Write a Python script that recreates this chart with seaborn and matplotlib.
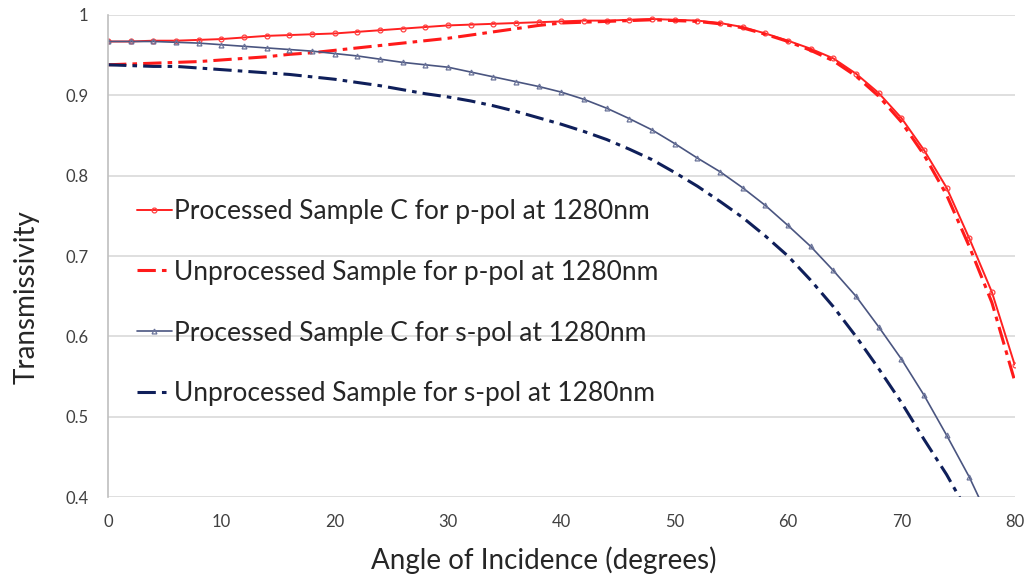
import numpy as np
import pandas as pd
import matplotlib
matplotlib.use("Agg")
import matplotlib.pyplot as plt
import seaborn as sns

angles = list(range(0, 81, 2))

p_processed = [0.967, 0.967, 0.968, 0.968, 0.969, 0.970, 0.972, 0.974, 0.975, 0.976,
               0.977, 0.979, 0.981, 0.983, 0.985, 0.987, 0.988, 0.989, 0.990, 0.991,
               0.992, 0.993, 0.993, 0.994, 0.995, 0.994, 0.993, 0.990, 0.985, 0.977,
               0.968, 0.958, 0.946, 0.927, 0.903, 0.872, 0.832, 0.785, 0.722, 0.655, 0.565]

p_unprocessed = [0.938, 0.939, 0.940, 0.941, 0.942, 0.944, 0.946, 0.948, 0.951, 0.953,
                 0.956, 0.959, 0.962, 0.965, 0.968, 0.971, 0.975, 0.979, 0.983, 0.987,
                 0.990, 0.991, 0.992, 0.993, 0.994, 0.993, 0.992, 0.989, 0.984, 0.976,
                 0.967, 0.956, 0.943, 0.924, 0.899, 0.867, 0.826, 0.776, 0.712, 0.642, 0.545]

s_processed = [0.967, 0.967, 0.967, 0.966, 0.965, 0.963, 0.961, 0.959, 0.957, 0.955,
               0.952, 0.949, 0.945, 0.941, 0.938, 0.935, 0.929, 0.923, 0.917, 0.911,
               0.904, 0.895, 0.884, 0.871, 0.857, 0.840, 0.822, 0.805, 0.785, 0.763,
               0.738, 0.712, 0.682, 0.650, 0.612, 0.572, 0.527, 0.477, 0.425, 0.365, np.nan]

s_unprocessed = [0.938, 0.937, 0.936, 0.936, 0.934, 0.932, 0.930, 0.928, 0.926, 0.923,
                 0.920, 0.916, 0.912, 0.907, 0.902, 0.898, 0.893, 0.887, 0.880, 0.872,
                 0.864, 0.855, 0.845, 0.833, 0.820, 0.804, 0.787, 0.768, 0.748, 0.725,
                 0.700, 0.670, 0.637, 0.600, 0.560, 0.518, 0.472, 0.428, 0.378, np.nan, np.nan]

labels = ["Processed Sample C for p-pol at 1280nm",
          "Unprocessed Sample for p-pol at 1280nm",
          "Processed Sample C for s-pol at 1280nm",
          "Unprocessed Sample for s-pol at 1280nm"]

x_ticks = [0, 10, 20, 30, 40, 50, 60, 70, 80]
y_ticks = [0.4, 0.5, 0.6, 0.7, 0.8, 0.9, 1.0]
y_tick_labels = ["0.4", "0.5", "0.6", "0.7", "0.8", "0.9", "1"]

sns.set_theme(style="white")
plt.rcParams['font.family'] = ['Lato', 'DejaVu Sans']

fig = plt.figure(figsize=(10.29, 5.76), dpi=100)
ax = fig.add_axes([0.105, 0.137, 0.881, 0.837])

styles = [
    dict(color="#ff2020", linestyle="-", linewidth=1.4, marker="o", markersize=3.5,
         markerfacecolor="none", markeredgecolor="#ff4040", markeredgewidth=0.9),
    dict(color="#ff1a1a", linestyle=(0, (6, 2, 1.5, 2)), linewidth=2.2),
    dict(color="#4a5580", linestyle="-", linewidth=1.2, marker="^", markersize=3.5,
         markerfacecolor="none", markeredgecolor="#6a7399", markeredgewidth=0.9),
    dict(color="#0f1f5a", linestyle=(0, (6, 2, 1.5, 2)), linewidth=2.2),
]

for series, label, st in zip([p_processed, p_unprocessed, s_processed, s_unprocessed], labels, styles):
    df = pd.DataFrame({"angle": angles, "T": series})
    sns.lineplot(data=df, x="angle", y="T", ax=ax, label=label, **st)

ax.set_xlim(0, 80)
ax.set_ylim(0.4, 1.0)
ax.set_xticks(x_ticks)
ax.set_yticks(y_ticks)
ax.set_yticklabels(y_tick_labels)
ax.tick_params(axis="both", length=0, labelsize=12, labelcolor="#404040")
ax.tick_params(axis="y", pad=14)
ax.tick_params(axis="x", pad=12)
ax.yaxis.grid(True, color="#d9d9d9", linewidth=1.2)
ax.xaxis.grid(False)
for side in ["top", "right", "bottom"]:
    ax.spines[side].set_visible(False)
ax.spines["left"].set_color("#bfbfbf")
ax.spines["left"].set_linewidth(1.2)

ax.set_xlabel("Angle of Incidence (degrees)", fontsize=20, color="#262626")
ax.set_ylabel("Transmissivity", fontsize=20, color="#262626")
ax.xaxis.set_label_coords(0.481, -0.103)
ax.yaxis.set_label_coords(-0.075, 0.415)

leg = ax.legend(loc="upper left", bbox_to_anchor=(0.006, 0.668), frameon=False,
                fontsize=19, handlelength=1.3, handletextpad=0.1, labelspacing=1.36)
for t in leg.get_texts():
    t.set_color("#262626")

fig.savefig("out.png", dpi=100)
